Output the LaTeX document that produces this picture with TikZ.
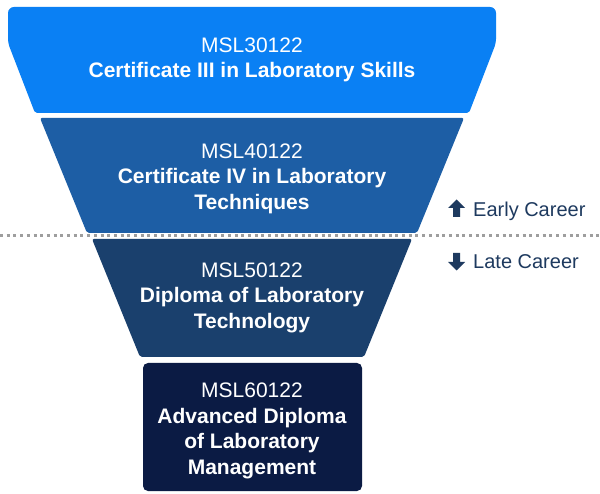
\documentclass[tikz,border=0pt]{standalone}
\usepackage{fontspec}
\setmainfont{Liberation Sans}
\definecolor{cone}{HTML}{0A80F4}
\definecolor{ctwo}{HTML}{1D5EA5}
\definecolor{cthree}{HTML}{1A406D}
\definecolor{cfour}{HTML}{0B1B44}
\definecolor{clabel}{HTML}{1E3A5F}
\definecolor{cdot}{HTML}{9E9E9E}
\begin{document}
\begin{tikzpicture}[x=1pt,y=-1pt,
  ttext/.style={text=white, align=center, inner sep=0pt, font=\fontsize{21}{25.5}\selectfont},
  side/.style={text=clabel, anchor=base west, inner sep=0pt, font=\fontsize{20}{24}\selectfont},
  dotline/.style={cdot, line width=3pt, dash pattern=on 3pt off 3.7pt}]
\useasboundingbox (0,0) rectangle (600,494);
\fill[white] (0,0) rectangle (600,494);
% tiers
\fill[cone] (252,113) [rounded corners=2pt] -- (35,113) [rounded corners=4pt] -- (8,43) [rounded corners=6pt] -- (8,7) -- (496,7) [rounded corners=4pt] -- (496,43) [rounded corners=2pt] -- (469,113) -- cycle;
\fill[ctwo, rounded corners=2pt] (40,118) -- (464,118) -- (417,233) -- (87,233) -- cycle;
\fill[cthree, rounded corners=2pt] (92,239) -- (412,239) -- (364,357) -- (140,357) -- cycle;
\fill[cfour, rounded corners=5pt] (143,363) rectangle (362,491);
% texts
\node[ttext] (t1) at (252,60) {MSL30122\\\textbf{Certificate III in Laboratory Skills}};
\node[ttext] (t2) at (252,178.7) {MSL40122\\\textbf{Certificate IV in Laboratory}\\\textbf{Techniques}};
\node[ttext] (t3) at (252,297.7) {MSL50122\\\textbf{Diploma of Laboratory}\\\textbf{Technology}};
\node[ttext] (t4) at (252,430.7) {MSL60122\\\textbf{Advanced Diploma}\\\textbf{of Laboratory}\\\textbf{Management}};
% dotted divider
\coordinate (dl) at (0,236);
\coordinate (dr) at (600,236);
\draw[dotline] (dl) -- (dr);
% arrows
\fill[clabel] (448,208) -- (456.5,199.5) -- (465,208) -- (460,208) -- (460,217) -- (453,217) -- (453,208) -- cycle;
\fill[clabel] (453,253) -- (460,253) -- (460,262) -- (465,262) -- (456.5,270.5) -- (448,262) -- (453,262) -- cycle;
\node[side] (early) at (473,217) {Early Career};
\node[side] (late) at (473,269) {Late Career};
\end{tikzpicture}
\end{document}
